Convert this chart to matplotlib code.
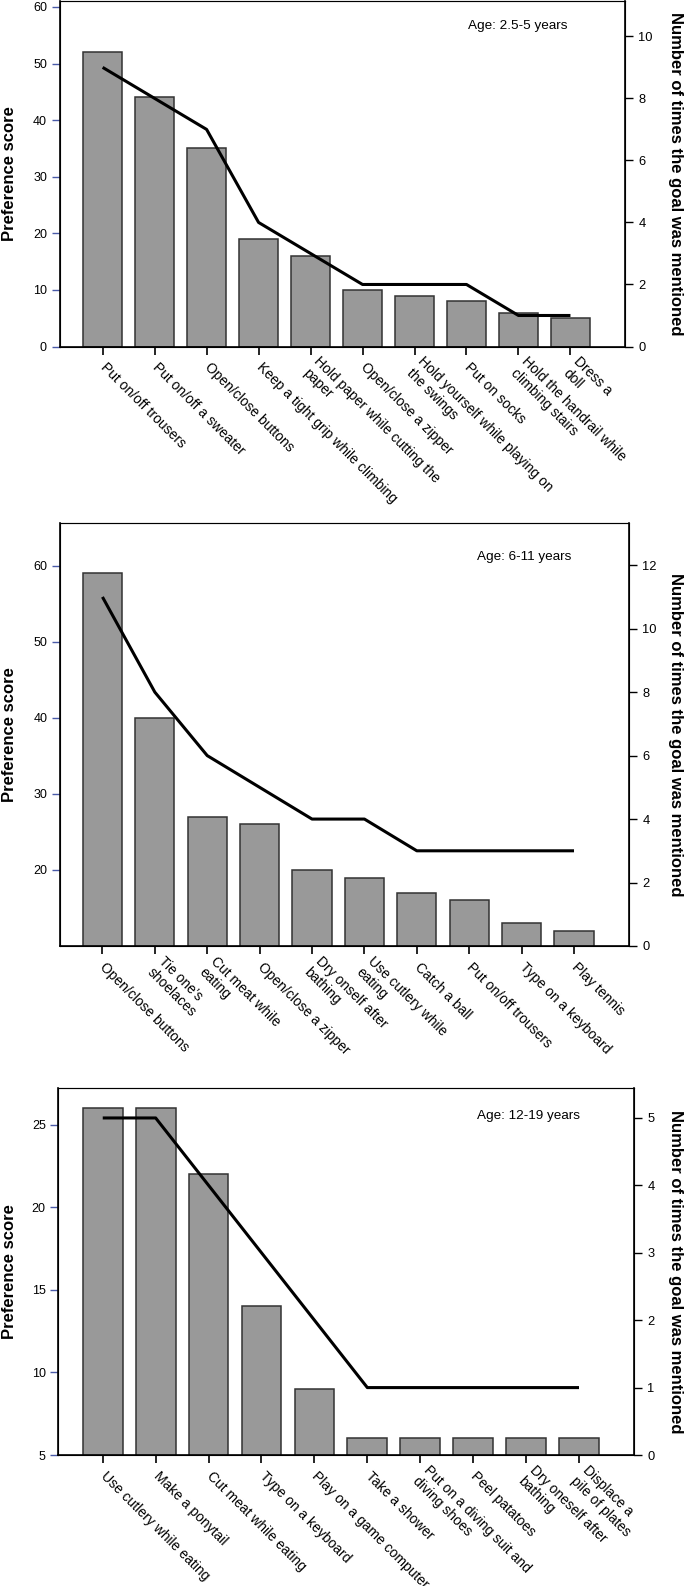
import matplotlib
matplotlib.use("Agg")
import matplotlib.pyplot as plt
import numpy as np

# --- data -------------------------------------------------------------
labels_1 = ["Put on/off trousers", "Put on/off a sweater", "Open/close buttons",
            "Keep a tight grip while climbing", "Hold paper while cutting the\npaper",
            "Open/close a zipper", "Hold yourself while playing on\nthe swings",
            "Put on socks", "Hold the handrail while\nclimbing stairs", "Dress a\ndoll"]
score_1 = [52, 44, 35, 19, 16, 10, 9, 8, 6, 5]
times_1 = [9, 8, 7, 4, 3, 2, 2, 2, 1, 1]

labels_2 = ["Open/close buttons", "Tie one\u2019s\nshoelaces", "Cut meat while\neating",
            "Open/close a zipper", "Dry onself after\nbathing", "Use cutlery while\neating",
            "Catch a ball", "Put on/off trousers", "Type on a keyboard", "Play tennis"]
score_2 = [59, 40, 27, 26, 20, 19, 17, 16, 13, 12]
times_2 = [11, 8, 6, 5, 4, 4, 3, 3, 3, 3]

labels_3 = ["Use cutlery while eating", "Make a ponytail", "Cut meat while eating",
            "Type on a keyboard", "Play on a game computer", "Take a shower",
            "Put on a diving suit and\ndiving shoes", "Peel patatoes",
            "Dry oneself after\nbathing", "Displace a\npile of plates"]
score_3 = [26, 26, 22, 14, 9, 6, 6, 6, 6, 6]
times_3 = [5, 5, 4, 3, 2, 1, 1, 1, 1, 1]

ages = ["Age: 2.5-5 years", "Age: 6-11 years", "Age: 12-19 years"]

# --- layout (pixels of the 685x1586 figure) ---------------------------
W, H = 685, 1586
boxes = [(59.5, 624.5, 0.7, 346.5), (60, 628.5, 523, 946), (58.3, 633.5, 1088.3, 1455)]
xlims = [(-0.83, 10.04), (-0.81, 10.04), (-0.84, 10.03)]
ylims_l = [(0, 61.1), (10, 65.6), (5, 27.2)]
ylims_r = [(0, 11.15), (0, 13.33), (0, 5.44)]
yticks_l = [range(0, 61, 10), range(20, 61, 10), range(5, 26, 5)]
yticks_r = [range(0, 11, 2), range(0, 13, 2), range(0, 6, 1)]
age_pos = [(568, 26), (571, 557), (580, 1116)]

plt.rcParams["font.family"] = ["Liberation Sans", "DejaVu Sans"]

fig = plt.figure(figsize=(W / 100, H / 100), dpi=100)

panels = [(labels_1, score_1, times_1), (labels_2, score_2, times_2), (labels_3, score_3, times_3)]
for i, (labs, sc, tm) in enumerate(panels):
    l, r, t, b = boxes[i]
    ax = fig.add_axes([l / W, 1 - b / H, (r - l) / W, (b - t) / H])
    x = np.arange(len(sc))
    ax.bar(x, sc, width=0.75, color="#999999", edgecolor="#333333", linewidth=1.1)
    ax.set_xlim(*xlims[i])
    ax.set_ylim(*ylims_l[i])
    ax.set_yticks(list(yticks_l[i]))
    ax.tick_params(axis="y", direction="out", length=6, width=1, color="#4a5aa8",
                   pad=3, labelsize=9)
    ax.set_xticks(x)
    ax.set_xticklabels(labs, rotation=-45, ha="left", va="center",
                       rotation_mode="anchor", fontsize=10)
    ax.tick_params(axis="x", direction="out", length=6, width=1.2, pad=7.5)
    for s in ["left", "bottom"]:
        ax.spines[s].set_linewidth(1.2)
    ax.spines["top"].set_color("#555555")

    ax2 = ax.twinx()
    ax2.plot(x, tm, color="black", linewidth=2.2, solid_capstyle="butt")
    ax2.set_ylim(*ylims_r[i])
    ax2.set_yticks(list(yticks_r[i]))
    ax2.tick_params(axis="y", direction="out", length=6, width=1, pad=4, labelsize=9.3)
    ax2.spines["right"].set_linewidth(1.2)

    cy = 1 - (t + b) / 2 / H
    fig.text(9.5 / W, cy, "Preference score", rotation=90, ha="center", va="center",
             fontsize=12, fontweight="bold")
    fig.text(675 / W, cy, "Number of times the goal was mentioned", rotation=-90,
             ha="center", va="center", fontsize=12, fontweight="bold")
    ax_x, ax_y = age_pos[i]
    fig.text(ax_x / W, 1 - ax_y / H, ages[i], ha="right", va="center", fontsize=9.7)

fig.savefig("out.png", dpi=100)
